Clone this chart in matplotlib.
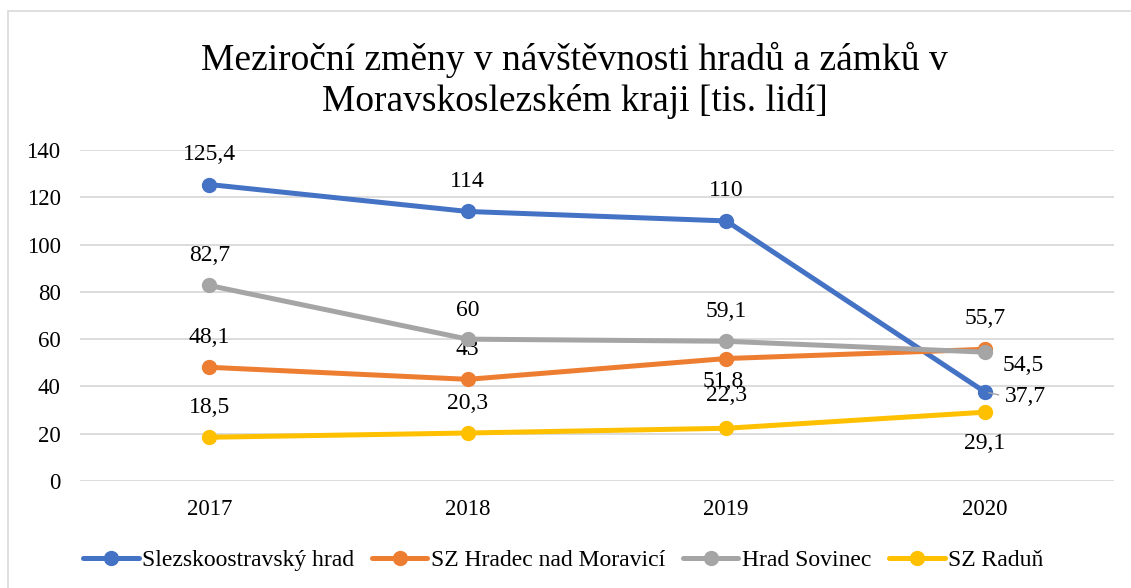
import matplotlib
matplotlib.use('Agg')
import matplotlib.pyplot as plt
from matplotlib.patches import Rectangle

years = ['2017', '2018', '2019', '2020']
slezskoostravsky = [125.4, 114, 110, 37.7]
hradec = [48.1, 43, 51.8, 55.7]
sovinec = [82.7, 60, 59.1, 54.5]
radun = [18.5, 20.3, 22.3, 29.1]

names = ['Slezskoostravský hrad', 'SZ Hradec nad Moravicí', 'Hrad Sovinec', 'SZ Raduň']
colors = ['#4472C4', '#ED7D31', '#A5A5A5', '#FFC000']

# label placement per point: (dx, dy) in pixels
offsets = [
    [(0, 30), (0, 30), (0, 30), (41, -5)],
    [(0, 30), (0, 30), (-3, -23), (0, 31)],
    [(0, 30), (0, 29), (0, 30), (38, -13)],
    [(0, 30), (0, 30), (0, 33), (0, -31)],
]

plt.rcParams['font.family'] = ['Liberation Serif', 'DejaVu Serif']

fig = plt.figure(figsize=(11.31, 5.88), dpi=100)
ax = fig.add_axes([80 / 1131, 1 - 481 / 588, 1034 / 1131, 331 / 588])

# chart border
fig.patches.append(Rectangle((8 / 1131, -0.05), 1.1, 1 - 11 / 588 + 0.05,
                             transform=fig.transFigure, fill=False,
                             edgecolor='#D9D9D9', linewidth=1.2))

x = list(range(len(years)))
series = [slezskoostravsky, hradec, sovinec, radun]
for vals, name, c, offs in zip(series, names, colors, offsets):
    ax.plot(x, vals, color=c, linewidth=3.6, marker='o', markersize=10,
            label=name, solid_capstyle='round', zorder=3)
    for xi, v, (dx, dy) in zip(x, vals, offs):
        lab = ('%g' % v).replace('.', ',')
        ax.annotate(lab, (xi, v), xytext=(dx, dy), textcoords='offset pixels',
                    ha='center', va='center', fontsize=17, color='#000000')

# leader line for 37,7
ax.annotate('', (x[3], slezskoostravsky[3]), xytext=(14, -3),
            textcoords='offset pixels',
            arrowprops=dict(arrowstyle='-', color='#A5A5A5', lw=1,
                            shrinkA=0, shrinkB=3))

ax.set_xlim(-0.5, 3.5)
ax.set_ylim(0, 140)
ax.set_yticks(range(0, 141, 20))
ax.set_xticks(x)
ax.set_xticklabels(years)
ax.tick_params(length=0, labelsize=16.5)
ax.tick_params(axis='x', pad=13)
ax.tick_params(axis='y', pad=14)
ax.grid(axis='y', color='#D9D9D9', linewidth=1.3)
ax.set_axisbelow(True)
for s in ax.spines.values():
    s.set_visible(False)

fig.text(0.508, 1 - 80 / 588,
         'Meziroční změny v návštěvnosti hradů a zámků v\nMoravskoslezském kraji [tis. lidí]',
         ha='center', va='center', fontsize=27, linespacing=1.22)

fig.legend(loc='center', bbox_to_anchor=(0.498, 1 - 560 / 588), ncol=4,
           frameon=False, handlelength=2.35, handletextpad=0.15,
           columnspacing=0.75,
           prop={'family': 'Liberation Serif', 'size': 17})

fig.savefig('out.png', dpi=100)
